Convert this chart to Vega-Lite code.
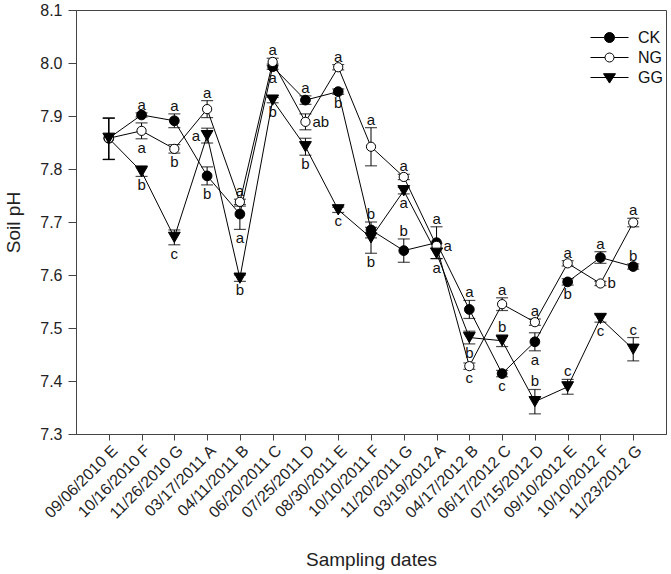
{
  "$schema": "https://vega.github.io/schema/vega-lite/v6.json",
  "autosize": {"type": "none"},
  "padding": {"left": 76, "top": 10, "right": 5, "bottom": 140},
  "width": 590,
  "height": 424,
  "background": "white",
  "config": {
    "font": "Liberation Sans",
    "view": {"stroke": "#444", "strokeWidth": 1},
    "axis": {"domainColor": "#444", "tickColor": "#444", "labelColor": "#222", "titleColor": "#222", "labelFont": "Liberation Sans", "titleFont": "Liberation Sans", "titleFontWeight": "normal", "grid": false}
  },
  "data": {"values": [
    {"date": "09/06/2010 E", "group": "CK", "mean": 7.858, "lo": 7.818, "hi": 7.896, "letter": "", "pos": "none"},
    {"date": "09/06/2010 E", "group": "NG", "mean": 7.858, "lo": 7.818, "hi": 7.896, "letter": "", "pos": "none"},
    {"date": "09/06/2010 E", "group": "GG", "mean": 7.858, "lo": 7.818, "hi": 7.896, "letter": "", "pos": "none"},
    {"date": "10/16/2010 F", "group": "CK", "mean": 7.902, "lo": 7.898, "hi": 7.906, "letter": "a", "pos": "above"},
    {"date": "10/16/2010 F", "group": "NG", "mean": 7.872, "lo": 7.857, "hi": 7.887, "letter": "a", "pos": "below"},
    {"date": "10/16/2010 F", "group": "GG", "mean": 7.795, "lo": 7.786, "hi": 7.806, "letter": "b", "pos": "below"},
    {"date": "11/26/2010 G", "group": "CK", "mean": 7.891, "lo": 7.878, "hi": 7.904, "letter": "a", "pos": "above"},
    {"date": "11/26/2010 G", "group": "NG", "mean": 7.838, "lo": 7.830, "hi": 7.846, "letter": "b", "pos": "below"},
    {"date": "11/26/2010 G", "group": "GG", "mean": 7.671, "lo": 7.657, "hi": 7.685, "letter": "c", "pos": "below"},
    {"date": "03/17/2011 A", "group": "CK", "mean": 7.787, "lo": 7.770, "hi": 7.804, "letter": "b", "pos": "below"},
    {"date": "03/17/2011 A", "group": "NG", "mean": 7.913, "lo": 7.897, "hi": 7.929, "letter": "a", "pos": "above"},
    {"date": "03/17/2011 A", "group": "GG", "mean": 7.863, "lo": 7.849, "hi": 7.877, "letter": "a", "pos": "left"},
    {"date": "04/11/2011 B", "group": "CK", "mean": 7.715, "lo": 7.686, "hi": 7.730, "letter": "a", "pos": "below"},
    {"date": "04/11/2011 B", "group": "NG", "mean": 7.738, "lo": 7.733, "hi": 7.743, "letter": "a", "pos": "above"},
    {"date": "04/11/2011 B", "group": "GG", "mean": 7.594, "lo": 7.588, "hi": 7.600, "letter": "b", "pos": "below"},
    {"date": "06/20/2011 C", "group": "CK", "mean": 7.993, "lo": 7.988, "hi": 7.998, "letter": "a", "pos": "below"},
    {"date": "06/20/2011 C", "group": "NG", "mean": 8.002, "lo": 7.995, "hi": 8.009, "letter": "a", "pos": "above"},
    {"date": "06/20/2011 C", "group": "GG", "mean": 7.930, "lo": 7.925, "hi": 7.935, "letter": "b", "pos": "below"},
    {"date": "07/25/2011 D", "group": "CK", "mean": 7.930, "lo": 7.922, "hi": 7.938, "letter": "a", "pos": "above"},
    {"date": "07/25/2011 D", "group": "NG", "mean": 7.889, "lo": 7.874, "hi": 7.904, "letter": "ab", "pos": "right"},
    {"date": "07/25/2011 D", "group": "GG", "mean": 7.842, "lo": 7.826, "hi": 7.858, "letter": "b", "pos": "below"},
    {"date": "08/30/2011 E", "group": "CK", "mean": 7.946, "lo": 7.941, "hi": 7.951, "letter": "b", "pos": "below"},
    {"date": "08/30/2011 E", "group": "NG", "mean": 7.992, "lo": 7.987, "hi": 7.997, "letter": "a", "pos": "above"},
    {"date": "08/30/2011 E", "group": "GG", "mean": 7.723, "lo": 7.718, "hi": 7.728, "letter": "c", "pos": "below"},
    {"date": "10/10/2011 F", "group": "CK", "mean": 7.685, "lo": 7.670, "hi": 7.700, "letter": "b", "pos": "above"},
    {"date": "10/10/2011 F", "group": "NG", "mean": 7.842, "lo": 7.806, "hi": 7.878, "letter": "a", "pos": "above"},
    {"date": "10/10/2011 F", "group": "GG", "mean": 7.670, "lo": 7.641, "hi": 7.690, "letter": "b", "pos": "below"},
    {"date": "11/20/2011 G", "group": "CK", "mean": 7.646, "lo": 7.624, "hi": 7.668, "letter": "b", "pos": "above"},
    {"date": "11/20/2011 G", "group": "NG", "mean": 7.785, "lo": 7.780, "hi": 7.790, "letter": "a", "pos": "above"},
    {"date": "11/20/2011 G", "group": "GG", "mean": 7.759, "lo": 7.753, "hi": 7.765, "letter": "a", "pos": "below"},
    {"date": "03/19/2012 A", "group": "CK", "mean": 7.661, "lo": 7.631, "hi": 7.691, "letter": "a", "pos": "above"},
    {"date": "03/19/2012 A", "group": "NG", "mean": 7.655, "lo": 7.650, "hi": 7.660, "letter": "a", "pos": "right"},
    {"date": "03/19/2012 A", "group": "GG", "mean": 7.641, "lo": 7.631, "hi": 7.651, "letter": "a", "pos": "below"},
    {"date": "04/17/2012 B", "group": "CK", "mean": 7.535, "lo": 7.518, "hi": 7.552, "letter": "a", "pos": "above"},
    {"date": "04/17/2012 B", "group": "NG", "mean": 7.428, "lo": 7.422, "hi": 7.434, "letter": "c", "pos": "below"},
    {"date": "04/17/2012 B", "group": "GG", "mean": 7.482, "lo": 7.470, "hi": 7.494, "letter": "b", "pos": "below"},
    {"date": "06/17/2012 C", "group": "CK", "mean": 7.414, "lo": 7.408, "hi": 7.420, "letter": "c", "pos": "below"},
    {"date": "06/17/2012 C", "group": "NG", "mean": 7.545, "lo": 7.533, "hi": 7.557, "letter": "a", "pos": "above"},
    {"date": "06/17/2012 C", "group": "GG", "mean": 7.476, "lo": 7.465, "hi": 7.487, "letter": "b", "pos": "above"},
    {"date": "07/15/2012 D", "group": "CK", "mean": 7.474, "lo": 7.457, "hi": 7.491, "letter": "a", "pos": "below"},
    {"date": "07/15/2012 D", "group": "NG", "mean": 7.511, "lo": 7.505, "hi": 7.517, "letter": "a", "pos": "above"},
    {"date": "07/15/2012 D", "group": "GG", "mean": 7.361, "lo": 7.338, "hi": 7.384, "letter": "b", "pos": "above"},
    {"date": "09/10/2012 E", "group": "CK", "mean": 7.587, "lo": 7.581, "hi": 7.593, "letter": "b", "pos": "below"},
    {"date": "09/10/2012 E", "group": "NG", "mean": 7.622, "lo": 7.617, "hi": 7.627, "letter": "a", "pos": "above"},
    {"date": "09/10/2012 E", "group": "GG", "mean": 7.389, "lo": 7.375, "hi": 7.403, "letter": "c", "pos": "above"},
    {"date": "10/10/2012 F", "group": "CK", "mean": 7.633, "lo": 7.622, "hi": 7.644, "letter": "a", "pos": "above"},
    {"date": "10/10/2012 F", "group": "NG", "mean": 7.584, "lo": 7.580, "hi": 7.588, "letter": "b", "pos": "right"},
    {"date": "10/10/2012 F", "group": "GG", "mean": 7.518, "lo": 7.511, "hi": 7.525, "letter": "c", "pos": "below"},
    {"date": "11/23/2012 G", "group": "CK", "mean": 7.616, "lo": 7.611, "hi": 7.621, "letter": "b", "pos": "above"},
    {"date": "11/23/2012 G", "group": "NG", "mean": 7.699, "lo": 7.691, "hi": 7.707, "letter": "a", "pos": "above"},
    {"date": "11/23/2012 G", "group": "GG", "mean": 7.460, "lo": 7.438, "hi": 7.482, "letter": "c", "pos": "above"}
  ]},
  "encoding": {
    "x": {"field": "date", "type": "ordinal", "sort": null,
      "scale": {"type": "point", "padding": 1},
      "axis": {"title": "Sampling dates", "labelAngle": -45, "labelFontSize": 16, "tickSize": 6, "labelPadding": 2, "titleFontSize": 19, "titleY": 131, "titleBaseline": "alphabetic"}},
    "y": {"field": "mean", "type": "quantitative",
      "scale": {"domain": [7.3, 8.1], "nice": false, "zero": false},
      "axis": {"title": "Soil pH", "values": [7.3, 7.4, 7.5, 7.6, 7.7, 7.8, 7.9, 8.0, 8.1], "format": ".1f", "labelFontSize": 16, "tickSize": 8, "labelPadding": 6, "titleFontSize": 19, "titleX": -63, "titleBaseline": "middle"}}
  },
  "layer": [
    {"mark": {"type": "line", "color": "black", "strokeWidth": 1},
     "encoding": {"detail": {"field": "group"}}},
    {"mark": {"type": "rule", "color": "black", "strokeWidth": 1},
     "encoding": {"y": {"field": "lo", "type": "quantitative"}, "y2": {"field": "hi"}}},
    {"mark": {"type": "tick", "color": "black", "size": 12, "thickness": 1.2},
     "encoding": {"y": {"field": "lo", "type": "quantitative"}}},
    {"mark": {"type": "tick", "color": "black", "size": 12, "thickness": 1.2},
     "encoding": {"y": {"field": "hi", "type": "quantitative"}}},
    {"transform": [{"filter": "datum.group === 'CK'"}],
     "mark": {"type": "point", "shape": "circle", "filled": true, "fill": "black", "stroke": "black", "strokeWidth": 1, "size": 95, "opacity": 1}},
    {"transform": [{"filter": "datum.group === 'NG'"}],
     "mark": {"type": "point", "shape": "circle", "filled": true, "fill": "white", "stroke": "black", "strokeWidth": 1, "size": 85, "opacity": 1}},
    {"transform": [{"filter": "datum.group === 'GG'"}],
     "mark": {"type": "point", "shape": "triangle-down", "filled": true, "fill": "black", "stroke": "black", "strokeWidth": 1, "size": 140, "opacity": 1}},
    {"transform": [{"filter": "datum.pos === 'above'"}],
     "mark": {"type": "text", "fontSize": 15, "color": "#111", "baseline": "alphabetic", "dy": -3},
     "encoding": {"y": {"field": "hi", "type": "quantitative"}, "text": {"field": "letter"}}},
    {"transform": [{"filter": "datum.pos === 'below'"}],
     "mark": {"type": "text", "fontSize": 15, "color": "#111", "baseline": "alphabetic", "dy": 14},
     "encoding": {"y": {"field": "lo", "type": "quantitative"}, "text": {"field": "letter"}}},
    {"transform": [{"filter": "datum.pos === 'right'"}],
     "mark": {"type": "text", "fontSize": 15, "color": "#111", "baseline": "middle", "align": "left", "dx": 7},
     "encoding": {"text": {"field": "letter"}}},
    {"transform": [{"filter": "datum.pos === 'left'"}],
     "mark": {"type": "text", "fontSize": 15, "color": "#111", "baseline": "middle", "align": "right", "dx": -7},
     "encoding": {"text": {"field": "letter"}}},
    {"transform": [{"filter": "datum.date === '09/06/2010 E'"}],
     "mark": {"type": "point", "filled": true, "strokeWidth": 1, "size": 0},
     "encoding": {
       "fill": {"field": "group", "type": "nominal",
         "scale": {"domain": ["CK", "NG", "GG"], "range": ["black", "white", "black"]}},
       "stroke": {"field": "group", "type": "nominal",
         "scale": {"domain": ["CK", "NG", "GG"], "range": ["black", "black", "black"]}},
       "shape": {"field": "group", "type": "nominal",
         "scale": {"domain": ["CK", "NG", "GG"], "range": [
           "M-1.9,0L-0.5,0M0.5,0A0.5,0.5,0,1,1,-0.5,0A0.5,0.5,0,1,1,0.5,0M0.5,0L1.9,0",
           "M-1.9,0L-0.45,0M0.45,0A0.45,0.45,0,1,1,-0.45,0A0.45,0.45,0,1,1,0.45,0M0.45,0L1.9,0",
           "M-1.9,0L1.9,0M-0.6,-0.38L0.6,-0.38L0,0.56Z"]},
         "legend": {"title": null, "orient": "none", "legendX": 523, "legendY": 17, "padding": 0,
           "symbolSize": 400, "symbolStrokeWidth": 1, "symbolOpacity": 1,
           "labelFontSize": 16, "labelFont": "Liberation Sans", "labelColor": "#111", "labelOffset": 18, "rowPadding": 1}}
     }}
  ]
}
